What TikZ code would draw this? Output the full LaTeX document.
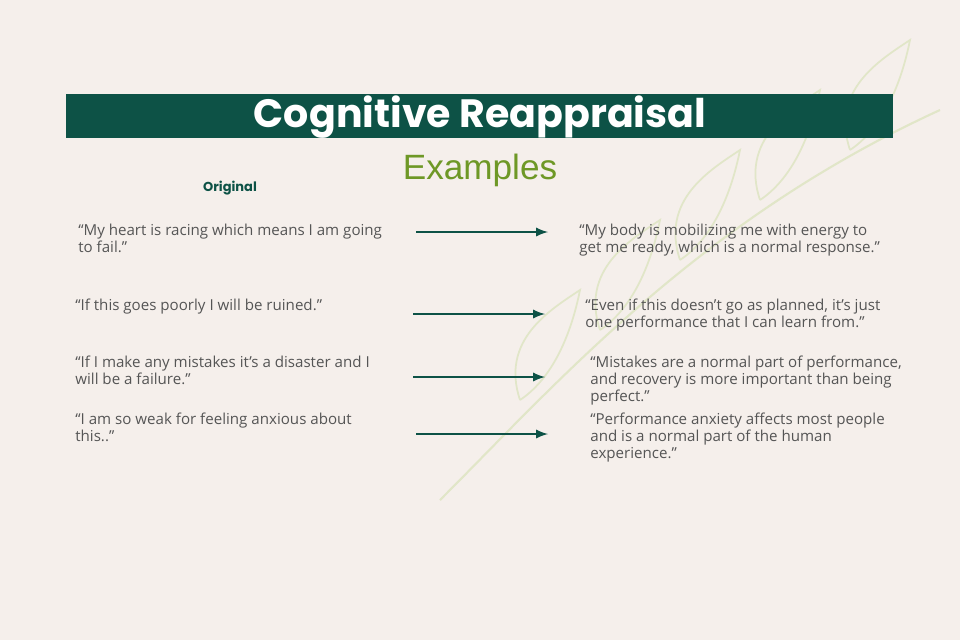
\documentclass[tikz,border=0pt]{standalone}
\usepackage{fontspec}
\setmainfont{Open Sans}
\newfontfamily\titlefont{Poppins}
\newfontfamily\subfont{Liberation Sans}
\definecolor{paper}{RGB}{245,239,235}
\definecolor{pine}{RGB}{13,82,70}
\definecolor{olive}{RGB}{110,152,38}
\definecolor{slate}{RGB}{85,85,85}
\definecolor{leaf}{RGB}{225,230,200}
\usetikzlibrary{positioning}
\begin{document}
\begin{tikzpicture}[x=0.02cm,y=-0.02cm,
    thought/.style={anchor=north west,align=left,text=slate,inner sep=0pt,
      font=\fontsize{8.6}{9.6}\selectfont},
    reframe/.style={pine,line width=1.3pt,-latex}
  ]
  \fill [paper] (0,0) rectangle (960,640);
  % faint branch in the background
  \draw [leaf,line width=1.2pt] (440,500) .. controls (560,380) and (700,220) .. (940,110);
  \foreach \a/\b in {520/400,600/330,680/260,760/200,850/150}
    \draw [leaf,line width=1pt] (\a,\b) .. controls (\a-20,\b-60) and (\a+30,\b-90) .. (\a+60,\b-110)
      .. controls (\a+50,\b-60) and (\a+30,\b-20) .. (\a,\b);
  \fill [pine] (66,94) rectangle (893,138);
  \node [white,font=\titlefont\bfseries\fontsize{22.5}{26}\selectfont] (title) at (480,117) {Cognitive Reappraisal};
  \node [olive,font=\subfont\fontsize{20}{24}\selectfont] (examples) at (480,170) {Examples};
  \node [pine,font=\titlefont\bfseries\fontsize{7.4}{9}\selectfont] (original) at (230,188) {Original};

  \node [thought] (old1) at (78,224) {“My heart is racing which means I am going\\to fail.”};
  \node [thought] (old2) at (75,299) {“If this goes poorly I will be ruined.”};
  \node [thought] (old3) at (75,356) {“If I make any mistakes it’s a disaster and I\\will be a failure.”};
  \node [thought] (old4) at (75,413) {“I am so weak for feeling anxious about\\this..”};

  \node [thought] (new1) at (579,224) {“My body is mobilizing me with energy to\\get me ready, which is a normal response.”};
  \node [thought] (new2) at (585,299) {“Even if this doesn’t go as planned, it’s just\\one performance that I can learn from.”};
  \node [thought] (new3) at (590,356) {“Mistakes are a normal part of performance,\\and recovery is more important than being\\perfect.”};
  \node [thought] (new4) at (590,413) {“Performance anxiety affects most people\\and is a normal part of the human\\experience.”};

  \coordinate (from1) at (416,232); \coordinate (to1) at (548,232);
  \coordinate (from2) at (413,314); \coordinate (to2) at (545,314);
  \coordinate (from3) at (413,377); \coordinate (to3) at (545,377);
  \coordinate (from4) at (416,434); \coordinate (to4) at (548,434);
  \foreach \i in {1,...,4}
    \draw [reframe] (from\i) -- (to\i);
\end{tikzpicture}
\end{document}
